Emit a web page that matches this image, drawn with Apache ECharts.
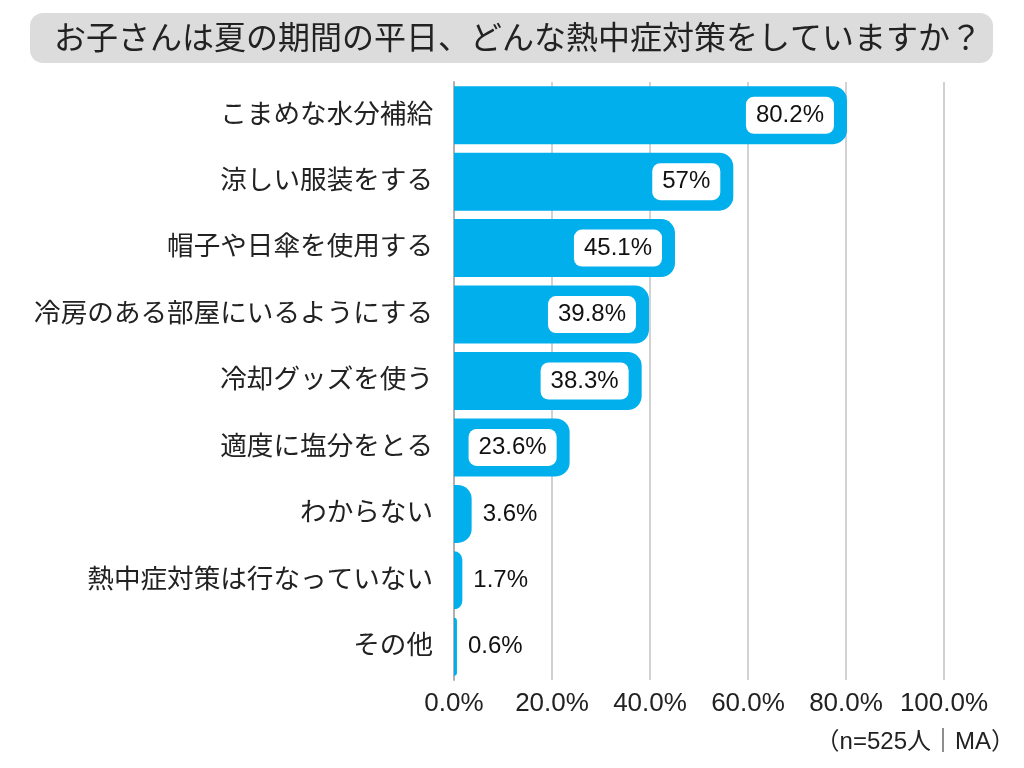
<!DOCTYPE html>
<html><head><meta charset="utf-8">
<script src="https://cdn.jsdelivr.net/npm/echarts@6/dist/echarts.min.js"></script>
<style>html,body{margin:0;padding:0;background:#fff}#c{width:1024px;height:768px}</style>
</head><body><div id="c"></div>
<script>
const categories = ['こまめな水分補給','涼しい服装をする','帽子や日傘を使用する','冷房のある部屋にいるようにする','冷却グッズを使う','適度に塩分をとる','わからない','熱中症対策は行なっていない','その他'];
const values = [80.2, 57, 45.1, 39.8, 38.3, 23.6, 3.6, 1.7, 0.6];
const valueLabels = ['80.2%','57%','45.1%','39.8%','38.3%','23.6%','3.6%','1.7%','0.6%'];
const xTicks = [0, 20, 40, 60, 80, 100];
const titleText = 'お子さんは夏の期間の平日、どんな熱中症対策をしていますか？';
const noteText = '（n=525人｜MA）';

const jp = '"Liberation Sans", "Noto Sans CJK JP", sans-serif';
const chart = echarts.init(document.getElementById('c'));
const data = values.map((v, i) => {
  const big = v >= 20;
  return {
    value: v,
    label: big ? {
      position: 'insideRight', distance: 13,
      backgroundColor: '#fff', borderRadius: 8, padding: [7, 10, 6, 10]
    } : { position: 'right', distance: 11 }
  };
});
chart.setOption({
  animation: false,
  textStyle: { fontFamily: jp },
  graphic: [
    { type: 'rect', left: 30, top: 13, shape: { width: 963, height: 50, r: 13 }, style: { fill: '#dcdcdc' }, z: 0 },
    { type: 'text', left: 54, top: 24, style: { text: titleText, font: '32px ' + jp, fill: '#222' }, z: 1 },
    { type: 'text', right: 9, top: 730, style: { text: noteText, font: '24px ' + jp, fill: '#222' } }
  ],
  grid: { left: 454, right: 80, top: 82, bottom: 88, containLabel: false },
  xAxis: {
    type: 'value', min: 0, max: 100, interval: 20,
    axisLine: { show: false }, axisTick: { show: false },
    splitLine: { lineStyle: { color: '#d2d2d2', width: 2 } },
    axisLabel: { color: '#222', fontSize: 26, margin: 11, fontFamily: jp,
      formatter: v => xTicks.includes(v) ? v.toFixed(1) + '%' : '' }
  },
  yAxis: {
    type: 'category', data: categories, inverse: true,
    axisLine: { show: true, lineStyle: { color: '#b0b0b0', width: 2 } },
    axisTick: { show: false },
    axisLabel: { color: '#222', fontSize: 26.6, margin: 21, padding: [12, 0, 0, 0], fontFamily: jp }
  },
  series: [{
    type: 'bar', data: data, barWidth: 58,
    itemStyle: { color: '#00afec', borderRadius: [0, 14, 14, 0] },
    label: { show: true, color: '#111', fontSize: 24, fontFamily: jp,
      formatter: p => valueLabels[p.dataIndex] }
  }]
});
</script></body></html>
